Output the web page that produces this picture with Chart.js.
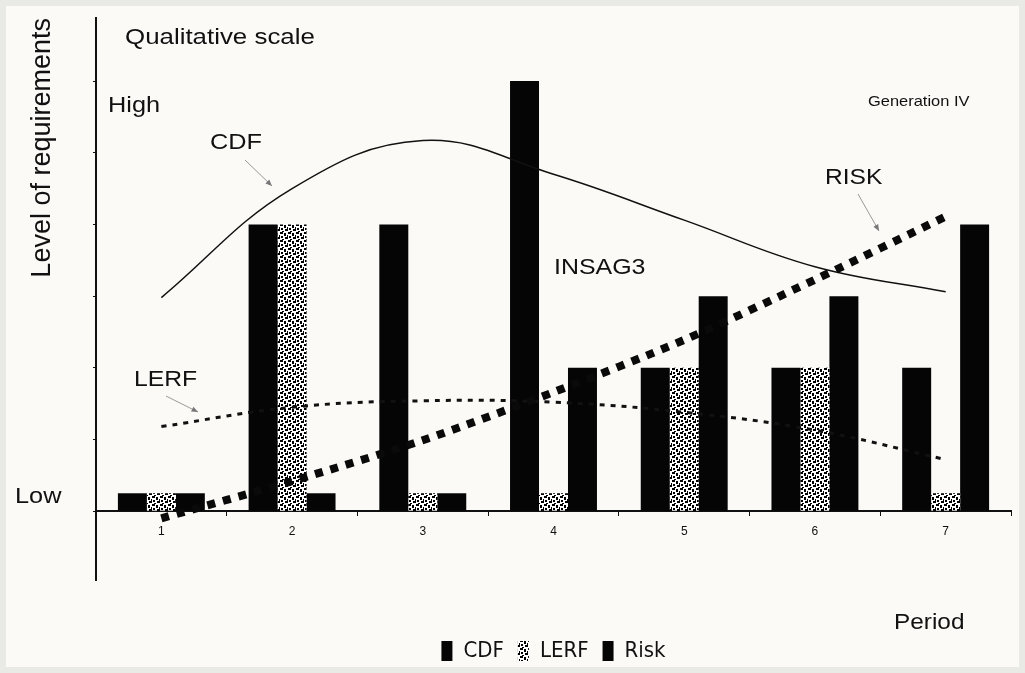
<!DOCTYPE html>
<html>
<head>
<meta charset="utf-8">
<script src="https://cdn.jsdelivr.net/npm/chart.js@4.4.1/dist/chart.umd.min.js"></script>
<style>
  html, body { margin: 0; padding: 0; background: #fbfaf7; }
  #wrap { width: 1025px; height: 673px; }
</style>
</head>
<body>
<div id="wrap"><canvas id="grafico"></canvas></div>
<script>
const periodos = ["1", "2", "3", "4", "5", "6", "7"];
const barrasCDF = [0.25, 4, 4, 6, 2, 2, 2];
const barrasLERF = [0.25, 4, 0.25, 0.25, 2, 2, 0.25];
const barrasRisk = [0.25, 0.25, 0.25, 2, 3, 3, 4];
const curvaCDF = [2.98, 4.5, 5.17, 4.7, 4.06, 3.41, 3.06];
const curvaLERF = [1.18, 1.45, 1.54, 1.52, 1.38, 1.13, 0.72];
const curvaRisk = [-0.1, 0.42, 0.99, 1.66, 2.39, 3.23, 4.11];
const marcasY = [0, 1, 2, 3, 4, 5, 6];

const fonte = '"Liberation Sans", Arial, sans-serif';
const fonteEstreita = '"Liberation Sans Narrow", "DejaVu Sans Condensed", "Liberation Sans", sans-serif';

// pontilhado do LERF
function criarPadrao() {
    const c = document.createElement("canvas");
    c.width = 8;
    c.height = 8;
    const g = c.getContext("2d");
    g.fillStyle = "#ffffff";
    g.fillRect(0, 0, 8, 8);
    g.fillStyle = "#000000";
    g.fillRect(0, 0, 3, 2);
    g.fillRect(4, 1, 2, 3);
    g.fillRect(1, 4, 2, 2);
    g.fillRect(5, 5, 3, 2);
    g.fillRect(2, 7, 2, 1);
    g.fillRect(7, 3, 1, 2);
    return g.createPattern(c, "repeat");
}
const padraoLERF = criarPadrao();

const fundo = {
    id: "fundo",
    beforeDraw(chart) {
        const ctx = chart.ctx;
        ctx.save();
        ctx.fillStyle = "#e9e9e5";
        ctx.fillRect(0, 0, chart.width, chart.height);
        ctx.fillStyle = "#fbfaf7";
        ctx.fillRect(6, 6, chart.width - 12, chart.height - 12);
        ctx.restore();
    }
};

// o texto do original e um pouco esticado na horizontal
const esticar = 1.15;
const textos = [
    { t: "Qualitative scale", x: 125, y: 38, s: 22.5 },
    { t: "High", x: 108, y: 106, s: 22 },
    { t: "CDF", x: 210, y: 143, s: 22 },
    { t: "LERF", x: 134, y: 380, s: 21.5 },
    { t: "INSAG3", x: 554, y: 268, s: 21.7 },
    { t: "RISK", x: 825, y: 178, s: 21.4 },
    { t: "Generation IV", x: 868, y: 102, s: 14.3 },
    { t: "Low", x: 15, y: 497, s: 22 },
    { t: "Period", x: 894, y: 623, s: 21.2 }
];

const setas = [
    [245, 160, 272, 186],
    [166, 396, 198, 412],
    [858, 194, 879, 231]
];

const anotacoes = {
    id: "anotacoes",
    afterDraw(chart) {
        const ctx = chart.ctx;
        ctx.save();
        ctx.fillStyle = "#111";
        ctx.textBaseline = "middle";
        for (const item of textos) {
            ctx.save();
            ctx.translate(item.x, item.y);
            ctx.scale(esticar, 1);
            ctx.font = item.s + "px " + fonte;
            ctx.fillText(item.t, 0, 0);
            ctx.restore();
        }
        ctx.strokeStyle = "#999";
        ctx.fillStyle = "#777";
        ctx.lineWidth = 1;
        for (const [x1, y1, x2, y2] of setas) {
            ctx.beginPath();
            ctx.moveTo(x1, y1);
            ctx.lineTo(x2, y2);
            ctx.stroke();
            const a = Math.atan2(y2 - y1, x2 - x1);
            ctx.beginPath();
            ctx.moveTo(x2, y2);
            ctx.lineTo(x2 - 7 * Math.cos(a - 0.4), y2 - 7 * Math.sin(a - 0.4));
            ctx.lineTo(x2 - 7 * Math.cos(a + 0.4), y2 - 7 * Math.sin(a + 0.4));
            ctx.closePath();
            ctx.fill();
        }
        ctx.restore();
    }
};

const ctx = document.getElementById("grafico").getContext("2d");
new Chart(ctx, {
    data: {
        labels: periodos,
        datasets: [
            { type: "bar", label: "CDF", data: barrasCDF, backgroundColor: "#050505", order: 2 },
            { type: "bar", label: "LERF", data: barrasLERF, backgroundColor: padraoLERF, order: 2 },
            { type: "bar", label: "Risk", data: barrasRisk, backgroundColor: "#050505", order: 2 },
            {
                type: "line", label: "cdf-curva", data: curvaCDF, borderColor: "#111",
                borderWidth: 1.5, tension: 0.4, pointRadius: 0, fill: false, order: 1
            },
            {
                type: "line", label: "lerf-curva", data: curvaLERF, borderColor: "#111",
                borderWidth: 3, borderDash: [5, 6], tension: 0.4, pointRadius: 0, fill: false, order: 1
            },
            {
                type: "line", label: "risk-curva", data: curvaRisk, borderColor: "#0a0a0a",
                borderWidth: 8, borderDash: [8, 8], borderCapStyle: "butt", tension: 0.3,
                pointRadius: 0, fill: false, order: 0
            }
        ]
    },
    options: {
        responsive: true,
        maintainAspectRatio: false,
        animation: false,
        layout: { padding: { top: 18, left: 0, right: 14, bottom: 1 } },
        datasets: {
            bar: { categoryPercentage: 0.665, barPercentage: 1 }
        },
        scales: {
            x: {
                position: { y: 0 },
                grid: { drawOnChartArea: false, tickLength: 4, color: "#111" },
                border: { color: "#111", width: 2 },
                ticks: { color: "#111", font: { size: 12, family: fonte }, padding: 9 }
            },
            y: {
                min: -0.96,
                max: 6.88,
                afterBuildTicks: (scale) => { scale.ticks = marcasY.map(v => ({ value: v })); },
                afterFit: (scale) => { scale.width = 96; },
                grid: { drawOnChartArea: false, tickLength: 3, color: "#111" },
                border: { color: "#111", width: 2 },
                ticks: { display: false },
                title: {
                    display: true,
                    text: "Level of requirements",
                    align: "end",
                    color: "#111",
                    font: { size: 27, family: fonte },
                    padding: { top: 26, bottom: 0 }
                }
            }
        },
        plugins: {
            tooltip: { enabled: false },
            legend: {
                position: "bottom",
                fullSize: false,
                title: { display: true, text: "", font: { size: 10 }, padding: { top: 34, bottom: 0 } },
                labels: {
                    boxWidth: 11,
                    boxHeight: 20,
                    padding: 14,
                    color: "#111",
                    font: { size: 22, family: fonteEstreita },
                    filter: (item) => item.datasetIndex < 3
                }
            }
        }
    },
    plugins: [fundo, anotacoes]
});
</script>
</body>
</html>
